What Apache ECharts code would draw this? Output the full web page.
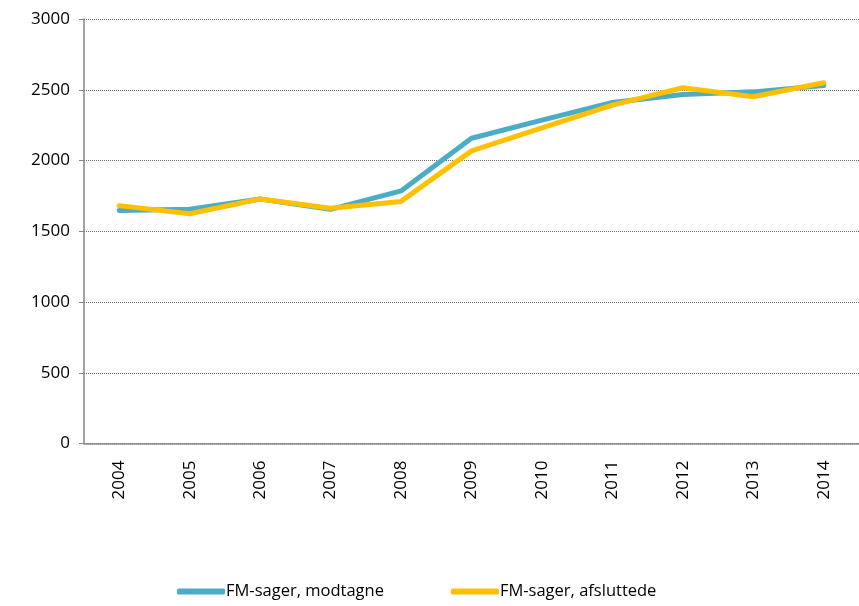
<!DOCTYPE html>
<html>
<head>
<meta charset="utf-8">
<script src="https://cdn.jsdelivr.net/npm/echarts@6/dist/echarts.min.js"></script>
<style>
  html, body { margin: 0; padding: 0; background: #fff; }
  #main { width: 859px; height: 606px; }
</style>
</head>
<body>
<div id="main"></div>
<script>
const years = ["2004", "2005", "2006", "2007", "2008", "2009", "2010", "2011", "2012", "2013", "2014"];
const modtagne = [1647, 1655, 1728, 1655, 1785, 2157, 2285, 2410, 2466, 2485, 2530];
const afsluttede = [1681, 1624, 1728, 1662, 1711, 2068, 2231, 2391, 2514, 2450, 2549];

const myChart = echarts.init(document.getElementById("main"));

const option = {
  animation: false,
  textStyle: { fontFamily: "Open Sans", color: "#000" },
  grid: { left: 84, right: -7, top: 19, bottom: 162.5 },
  legend: {
    bottom: 1,
    left: 172,
    itemWidth: 48,
    itemHeight: 6,
    itemGap: 67,
    icon: "roundRect",
    textStyle: { fontSize: 16.5, color: "#000", padding: [0, 0, 0, -4] },
    data: ["FM-sager, modtagne", "FM-sager, afsluttede"]
  },
  xAxis: {
    type: "category",
    data: years,
    boundaryGap: true,
    axisLine: { lineStyle: { color: "#868686", width: 1.5 } },
    axisTick: { length: 5, lineStyle: { color: "#868686" } },
    axisLabel: { rotate: 90, fontSize: 17, color: "#000", margin: 17 }
  },
  yAxis: {
    type: "value",
    min: 0,
    max: 3000,
    interval: 500,
    axisLine: { show: true, lineStyle: { color: "#868686", width: 1.5 } },
    axisTick: { show: true, length: 5, lineStyle: { color: "#868686" } },
    axisLabel: { fontSize: 17, color: "#000", margin: 14, formatter: (v) => String(v) },
    splitLine: { lineStyle: { color: "#6b6b6b", type: [1, 1], width: 1 } }
  },
  series: [
    {
      name: "FM-sager, modtagne",
      type: "line",
      data: modtagne,
      showSymbol: false,
      symbol: "none",
      lineStyle: { color: "#4BACC6", width: 5, cap: "round" },
      itemStyle: { color: "#4BACC6" }
    },
    {
      name: "FM-sager, afsluttede",
      type: "line",
      data: afsluttede,
      showSymbol: false,
      symbol: "none",
      lineStyle: { color: "#FFC000", width: 5, cap: "round" },
      itemStyle: { color: "#FFC000" }
    }
  ]
};

myChart.setOption(option);
</script>
</body>
</html>
